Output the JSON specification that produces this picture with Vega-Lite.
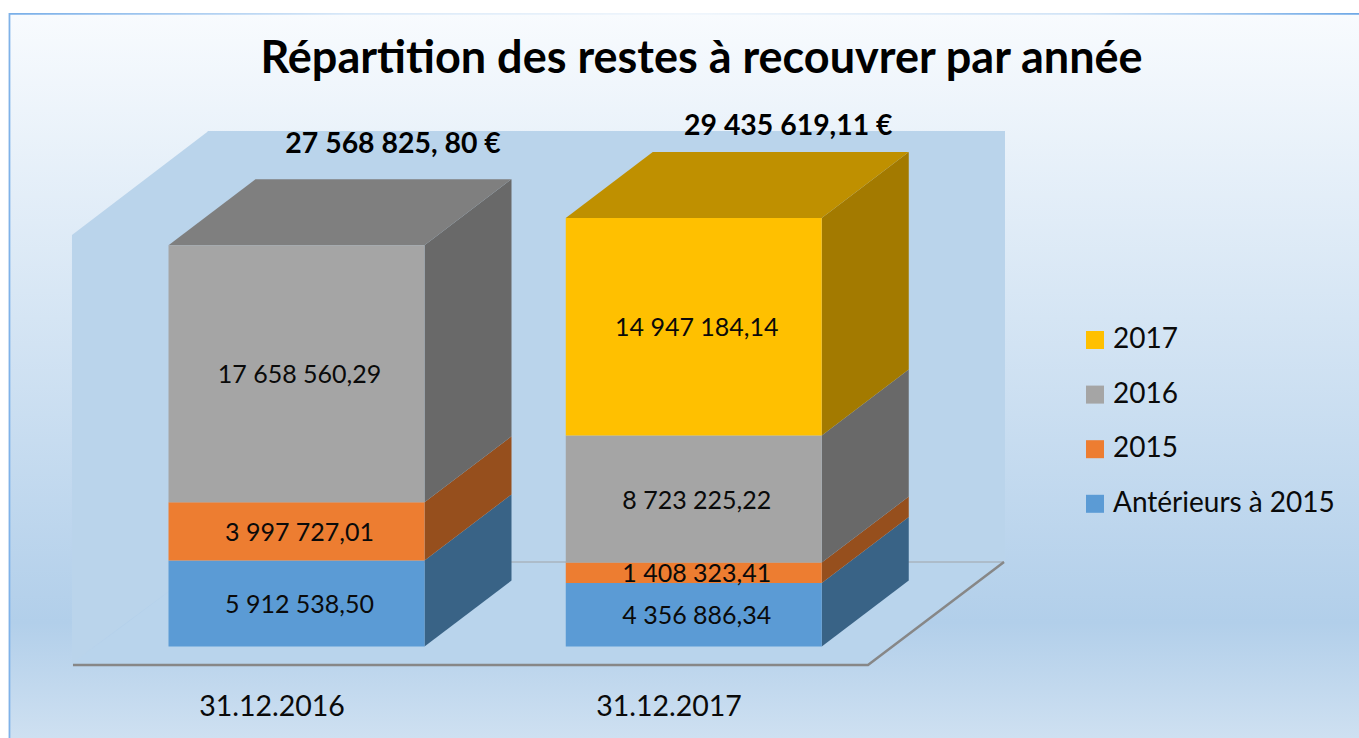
{
"$schema":"https://vega.github.io/schema/vega-lite/v6.json",
"width":1359,"height":738,"padding":0,"autosize":"none","background":"#ffffff",
"title":{"text":"Répartition des restes à recouvrer par année","font":"Lato","fontSize":45,"fontWeight":"bold","color":"#000000","anchor":"middle","frame":"group","dx":22,"dy":118,"offset":0,"baseline":"alphabetic"},
"config":{"view":{"stroke":null},"font":"Lato"},
"datasets":{
"sideWall":[{"x":0.4348,"lo":-1133550,"hi":28270050},{"x":0.7785,"lo":5805150,"hi":35414850}],
"floor":[{"x":0.4348,"lo":-1202250,"hi":-1202250},{"x":0.7785,"lo":-1202250,"hi":5805150},{"x":2.4386,"lo":-1202250,"hi":5805150},{"x":2.781,"lo":5805150,"hi":5805150}],
"frontEdge":[{"x":0.4373,"y":-1270950},{"x":2.4386,"y":-1270950},{"x":2.781,"y":5805150}],
"backEdge":[{"x":0.7785,"y":5805150},{"x":2.781,"y":5805150}],
"totals":[{"date":"31.12.2016","total":27568825.80,"label":"27 568 825, 80 €"},{"date":"31.12.2017","total":29435619.11,"label":"29 435 619,11 €"}]
},
"data":{"values":[
{"date":"31.12.2016","category":"Antérieurs à 2015","amount":5912538.50,"label":"5 912 538,50"},
{"date":"31.12.2016","category":"2015","amount":3997727.01,"label":"3 997 727,01"},
{"date":"31.12.2016","category":"2016","amount":17658560.29,"label":"17 658 560,29"},
{"date":"31.12.2017","category":"Antérieurs à 2015","amount":4356886.34,"label":"4 356 886,34"},
{"date":"31.12.2017","category":"2015","amount":1408323.41,"label":"1 408 323,41"},
{"date":"31.12.2017","category":"2016","amount":8723225.22,"label":"8 723 225,22"},
{"date":"31.12.2017","category":"2017","amount":14947184.14,"label":"14 947 184,14"}
]},
"transform":[
{"calculate":"indexof(['Antérieurs à 2015','2015','2016','2017'],datum.category)","as":"rank"},
{"stack":"amount","groupby":["date"],"sort":[{"field":"rank","order":"ascending"}],"as":["y0","y1"]},
{"calculate":"datum.date==='31.12.2016'?1:2","as":"slot"},
{"joinaggregate":[{"op":"max","field":"y1","as":"top"}],"groupby":["date"]}
],
"resolve":{"scale":{"fill":"independent"}},
"layer":[
{"data":{"values":[{}]},"mark":{"type":"rect","fill":{"gradient":"linear","x1":0,"y1":0,"x2":0,"y2":1,"stops":[{"offset":0,"color":"#f8fbfe"},{"offset":0.84,"color":"#b2cfea"},{"offset":1,"color":"#cee0f1"}]}},
"encoding":{"x":{"datum":0.2763,"type":"quantitative","scale":{"domain":[0.2536,3.6746],"nice":false,"zero":false},"axis":null},"x2":{"datum":3.6746},"y":{"datum":43452750,"type":"quantitative","scale":{"domain":[-6286050,44414550],"nice":false,"zero":false},"axis":null},"y2":{"datum":-6286050}}},
{"data":{"values":[{}]},"mark":{"type":"rect","fill":{"gradient":"linear","x1":0,"y1":0,"x2":1,"y2":0,"stops":[{"offset":0,"color":"#78aee8"},{"offset":0.25,"color":"#d8e8f8"},{"offset":0.5,"color":"#f0f6fc"},{"offset":0.8,"color":"#d0e3f6"},{"offset":1,"color":"#6ea8e6"}]}},
"encoding":{"x":{"datum":0.2763,"type":"quantitative","scale":{"domain":[0.2536,3.6746],"nice":false,"zero":false},"axis":null},"x2":{"datum":3.6746},"y":{"datum":43521450,"type":"quantitative","scale":{"domain":[-6286050,44414550],"nice":false,"zero":false},"axis":null},"y2":{"datum":43398000}}},
{"data":{"values":[{}]},"mark":{"type":"rect","fill":"#7fb2e8"},
"encoding":{"x":{"datum":0.2752,"type":"quantitative","scale":{"domain":[0.2536,3.6746],"nice":false,"zero":false},"axis":null},"x2":{"datum":0.2797},"y":{"datum":43521450,"type":"quantitative","scale":{"domain":[-6286050,44414550],"nice":false,"zero":false},"axis":null},"y2":{"datum":-6286050}}},
{"data":{"name":"sideWall"},"mark":{"type":"area","fill":"#bad4eb"},
"encoding":{"x":{"field":"x","type":"quantitative","scale":{"domain":[0.2536,3.6746],"nice":false,"zero":false},"axis":null},"y":{"field":"lo","type":"quantitative","scale":{"domain":[-6286050,44414550],"nice":false,"zero":false},"axis":null},"y2":{"field":"hi"}}},
{"data":{"values":[{}]},"mark":{"type":"rect","fill":"#bad4eb"},
"encoding":{"x":{"datum":0.7765,"type":"quantitative","scale":{"domain":[0.2536,3.6746],"nice":false,"zero":false},"axis":null},"x2":{"datum":2.7835},"y":{"datum":35414850,"type":"quantitative","scale":{"domain":[-6286050,44414550],"nice":false,"zero":false},"axis":null},"y2":{"datum":5805150}}},
{"data":{"name":"floor"},"mark":{"type":"area","fill":"#b9d4ec"},
"encoding":{"x":{"field":"x","type":"quantitative","scale":{"domain":[0.2536,3.6746],"nice":false,"zero":false},"axis":null},"y":{"field":"lo","type":"quantitative","scale":{"domain":[-6286050,44414550],"nice":false,"zero":false},"axis":null},"y2":{"field":"hi"}}},
{"data":{"name":"backEdge"},"mark":{"type":"line","stroke":"#a9b5bf","strokeWidth":1.5},
"encoding":{"x":{"field":"x","type":"quantitative","scale":{"domain":[0.2536,3.6746],"nice":false,"zero":false},"axis":null},"y":{"field":"y","type":"quantitative","scale":{"domain":[-6286050,44414550],"nice":false,"zero":false},"axis":null}}},
{"data":{"name":"frontEdge"},"mark":{"type":"line","stroke":"#878787","strokeWidth":2.5},
"encoding":{"x":{"field":"x","type":"quantitative","scale":{"domain":[0.2536,3.6746],"nice":false,"zero":false},"axis":null},"y":{"field":"y","type":"quantitative","scale":{"domain":[-6286050,44414550],"nice":false,"zero":false},"axis":null}}},
{"transform":[
{"calculate":"[datum.slot+0.3222,datum.slot+0.5412]","as":"px"},
{"calculate":"[datum.y0,datum.y0+4534200]","as":"lo"},
{"calculate":"[datum.y1,datum.y1+4534200]","as":"hi"},
{"flatten":["px","lo","hi"]}],
"mark":{"type":"area"},
"encoding":{"x":{"field":"px","type":"quantitative","scale":{"domain":[0.2536,3.6746],"nice":false,"zero":false},"axis":null},"y":{"field":"lo","type":"quantitative","scale":{"domain":[-6286050,44414550],"nice":false,"zero":false},"axis":null},"y2":{"field":"hi"},
"fill":{"field":"category","type":"nominal","legend":null,"scale":{"domain":["2017","2016","2015","Antérieurs à 2015"],"range":["#a37a00","#696969","#964f1d","#396386"]}},
"detail":{"field":"date"}}},
{"transform":[
{"filter":"datum.y1===datum.top"},
{"calculate":"[datum.slot-0.3222,datum.slot-0.1032,datum.slot+0.3222,datum.slot+0.5412]","as":"px"},
{"calculate":"[datum.y1,datum.y1,datum.y1,datum.y1+4534200]","as":"lo"},
{"calculate":"[datum.y1,datum.y1+4534200,datum.y1+4534200,datum.y1+4534200]","as":"hi"},
{"flatten":["px","lo","hi"]}],
"mark":{"type":"area"},
"encoding":{"x":{"field":"px","type":"quantitative","scale":{"domain":[0.2536,3.6746],"nice":false,"zero":false},"axis":null},"y":{"field":"lo","type":"quantitative","scale":{"domain":[-6286050,44414550],"nice":false,"zero":false},"axis":null},"y2":{"field":"hi"},
"fill":{"field":"category","type":"nominal","legend":null,"scale":{"domain":["2017","2016"],"range":["#bf9000","#7f7f7f"]}},
"detail":{"field":"date"}}},
{"transform":[{"calculate":"datum.slot-0.3222","as":"xa"},{"calculate":"datum.slot+0.3222","as":"xb"}],
"mark":{"type":"rect"},
"encoding":{"x":{"field":"xa","type":"quantitative","scale":{"domain":[0.2536,3.6746],"nice":false,"zero":false},"axis":null},"x2":{"field":"xb"},"y":{"field":"y0","type":"quantitative","scale":{"domain":[-6286050,44414550],"nice":false,"zero":false},"axis":null},"y2":{"field":"y1"},
"color":{"field":"category","type":"nominal","scale":{"domain":["2017","2016","2015","Antérieurs à 2015"],"range":["#ffc000","#a5a5a5","#ed7d31","#5b9bd5"]},
"legend":{"title":null,"orient":"none","legendX":1081,"legendY":326,"symbolType":"square","symbolSize":324,"symbolStrokeWidth":0,"symbolOpacity":1,"labelFont":"Lato","labelFontSize":28,"labelColor":"#0a0a0a","labelOffset":4,"rowPadding":26.6,"labelLimit":300,"padding":0}}}},
{"transform":[{"calculate":"(datum.y0+datum.y1)/2","as":"mid"}],
"mark":{"type":"text","font":"Lato","fontSize":25,"color":"#0a0a0a","align":"center","baseline":"middle","dx":3,"dy":1.5},
"encoding":{"x":{"field":"slot","type":"quantitative","scale":{"domain":[0.2536,3.6746],"nice":false,"zero":false},"axis":null},"y":{"field":"mid","type":"quantitative","scale":{"domain":[-6286050,44414550],"nice":false,"zero":false},"axis":null},"text":{"field":"label"}}},
{"data":{"name":"totals"},"transform":[
{"calculate":"datum.date==='31.12.2016'?1.243:2.238","as":"xt"},
{"calculate":"datum.date==='31.12.2016'?34659150:35895750","as":"yt"}],
"mark":{"type":"text","font":"Lato","fontSize":28.4,"fontWeight":"bold","color":"#000000","align":"center","baseline":"middle","dy":1.5},
"encoding":{"x":{"field":"xt","type":"quantitative","scale":{"domain":[0.2536,3.6746],"nice":false,"zero":false},"axis":null},"y":{"field":"yt","type":"quantitative","scale":{"domain":[-6286050,44414550],"nice":false,"zero":false},"axis":null},"text":{"field":"label"}}},
{"data":{"name":"totals"},"transform":[
{"calculate":"datum.date==='31.12.2016'?0.9383:1.9377","as":"xd"},
{"calculate":"-4018950","as":"yd"}],
"mark":{"type":"text","font":"Lato","fontSize":28.5,"color":"#0a0a0a","align":"center","baseline":"middle","dy":2},
"encoding":{"x":{"field":"xd","type":"quantitative","scale":{"domain":[0.2536,3.6746],"nice":false,"zero":false},"axis":null},"y":{"field":"yd","type":"quantitative","scale":{"domain":[-6286050,44414550],"nice":false,"zero":false},"axis":null},"text":{"field":"date"}}}
]
}
